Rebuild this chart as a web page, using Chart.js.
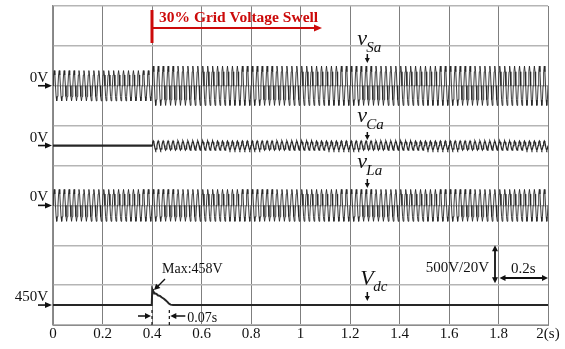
<!DOCTYPE html>
<html>
<head>
<meta charset="utf-8">
<script src="https://cdn.jsdelivr.net/npm/chart.js@4/dist/chart.umd.min.js"></script>
<style>
  html, body { margin: 0; padding: 0; background: #fff; }
  #wrap { width: 565px; height: 349px; }
</style>
</head>
<body>
<div id="wrap"><canvas id="scope" width="565" height="349"></canvas></div>
<script>
// ---- recorded values ----
const xTickLabels = ['0', '0.2', '0.4', '0.6', '0.8', '1', '1.2', '1.4', '1.6', '1.8', '2(s)'];
const timeEnd = 2;            // s
const swellStart = 0.4;       // s, grid voltage rises by 30 %
const gridFreq = 50;          // Hz
// one mains cycle, sampled at eight points (per-unit of peak)
const cycleShape = [0, 0.71, 1, 0.71, 0, -0.71, -1, -0.71];
// peak amplitudes [before swell, after swell] in volts
const vSaPeak = [190, 247];
const vCaPeak = [0, 57];
const vLaPeak = [200, 200];
// DC-link voltage around the swell
const vdcTime  = [0, 0.399, 0.401, 0.404, 0.408, 0.412, 0.418, 0.425, 0.432, 0.44, 0.448, 0.455, 0.462, 0.468, 0.475, 0.485, 2];
const vdcValue = [450, 450, 458, 457.2, 456.4, 455.8, 455.6, 454.8, 454.6, 453.8, 453.2, 452.4, 451.6, 450.8, 450.2, 450, 450];
const settleTime = 0.07;      // s

// oscilloscope settings
const divisions = 8;
const acVoltsPerDiv = 500;
const dcVoltsPerDiv = 20;

// build a trace by repeating the sampled cycle with the recorded peak
function buildWave(peaks) {
  const n = cycleShape.length;
  const dt = 1 / gridFreq / n;
  const total = Math.round(timeEnd * gridFreq * n);
  const pts = [];
  for (let i = 0; i <= total; i++) {
    const t = i * dt;
    const amp = t < swellStart - 1e-9 ? peaks[0] : peaks[1];
    pts.push({ x: t, y: amp * cycleShape[i % n] });
  }
  return pts;
}
const vSaPoints = buildWave(vSaPeak);
const vCaPoints = buildWave(vCaPeak);
const vLaPoints = buildWave(vLaPeak);
const vdcPoints = vdcTime.map((t, i) => ({ x: t, y: vdcValue[i] }));

// vertical placement of each trace's reference level (divisions from top)
function acAxis(zeroDiv) {
  return { display: false, min: -(divisions - zeroDiv) * acVoltsPerDiv, max: zeroDiv * acVoltsPerDiv };
}
const vdcRef = 450;
const vdcAxis = { display: false, min: vdcRef - (divisions - 7.5) * dcVoltsPerDiv, max: vdcRef + 7.5 * dcVoltsPerDiv };

const SERIF = '"Liberation Serif", "Times New Roman", serif';
const INK = '#111';
const RED = '#cc0a0a';

function head(ctx, x, y, ang, len, half) {
  const c = Math.cos(ang), s = Math.sin(ang);
  ctx.beginPath();
  ctx.moveTo(x, y);
  ctx.lineTo(x - len * c + half * s, y - len * s - half * c);
  ctx.lineTo(x - len * c - half * s, y - len * s + half * c);
  ctx.closePath();
  ctx.fill();
}
function arrow(ctx, x1, y1, x2, y2, o = {}) {
  const color = o.color || INK, width = o.width || 1.5, len = o.len || 6, half = o.half || 3;
  const ang = Math.atan2(y2 - y1, x2 - x1);
  const c = Math.cos(ang), s = Math.sin(ang);
  ctx.save();
  ctx.strokeStyle = color; ctx.fillStyle = color; ctx.lineWidth = width;
  ctx.beginPath();
  ctx.moveTo(o.both ? x1 + c * len * 0.8 : x1, o.both ? y1 + s * len * 0.8 : y1);
  ctx.lineTo(x2 - c * len * 0.8, y2 - s * len * 0.8);
  ctx.stroke();
  head(ctx, x2, y2, ang, len, half);
  if (o.both) head(ctx, x1, y1, ang + Math.PI, len, half);
  ctx.restore();
}
function text(ctx, str, x, y, font, align = 'left', color = INK) {
  ctx.save();
  ctx.font = font; ctx.fillStyle = color; ctx.textAlign = align; ctx.textBaseline = 'alphabetic';
  ctx.fillText(str, x, y);
  ctx.restore();
}
function traceLabel(ctx, main, sub, x, y, subDx, subDy) {
  text(ctx, main, x, y, 'italic 22px ' + SERIF);
  text(ctx, sub, x + subDx, y + subDy, 'italic 15px ' + SERIF);
}

const scopeNotes = {
  id: 'scopeNotes',
  afterDatasetsDraw(chart) {
    const ctx = chart.ctx;
    const xs = chart.scales.x;
    const area = chart.chartArea;
    const left = area.left;

    // swell marker
    const xs0 = xs.getPixelForValue(swellStart);
    ctx.save();
    ctx.strokeStyle = RED; ctx.lineWidth = 3;
    ctx.beginPath(); ctx.moveTo(xs0, 10); ctx.lineTo(xs0, 43); ctx.stroke();
    ctx.restore();
    arrow(ctx, xs0, 28, 322, 28, { color: RED, width: 2, len: 8, half: 3.5 });
    text(ctx, '30% Grid Voltage Swell', xs0 + 7, 22, 'bold 15.5px ' + SERIF, 'left', RED);

    // reference-level markers on the left
    const refs = [
      ['0V', chart.scales.ySa.getPixelForValue(0)],
      ['0V', chart.scales.yCa.getPixelForValue(0)],
      ['0V', chart.scales.yLa.getPixelForValue(0)],
      ['450V', chart.scales.yDc.getPixelForValue(vdcRef)]
    ];
    refs.forEach(([lbl, y]) => {
      text(ctx, lbl, left - 5, y - 4, '15px ' + SERIF, 'right');
      arrow(ctx, left - 15, y, left - 1, y, { width: 1.6, len: 7, half: 3 });
    });

    // trace names
    const lx = xs.getPixelForValue(1.27);
    traceLabel(ctx, 'v', 'Sa', lx - 10, 45, 9, 7);
    arrow(ctx, lx, 54, lx, 63, { len: 5, half: 2.5 });
    traceLabel(ctx, 'v', 'Ca', lx - 10, 122, 9, 7);
    arrow(ctx, lx, 132, lx, 140, { len: 5, half: 2.5 });
    traceLabel(ctx, 'v', 'La', lx - 10, 168, 9, 7);
    arrow(ctx, lx, 179, lx, 188, { len: 5, half: 2.5 });
    traceLabel(ctx, 'V', 'dc', lx - 7, 285, 13, 6);
    arrow(ctx, lx, 292, lx, 301, { len: 5, half: 2.5 });

    // DC-link peak and settling time
    const peakY = chart.scales.yDc.getPixelForValue(Math.max(...vdcValue));
    text(ctx, 'Max:' + Math.max(...vdcValue) + 'V', 162, 273, '14px ' + SERIF);
    arrow(ctx, 165, 279, xs0 + 2, peakY + 1, { width: 1.3, len: 6, half: 3 });
    const xs1 = xs.getPixelForValue(swellStart + settleTime);
    ctx.save();
    ctx.strokeStyle = INK; ctx.lineWidth = 1.2; ctx.setLineDash([3, 3]);
    ctx.beginPath();
    ctx.moveTo(xs0, 310); ctx.lineTo(xs0, area.bottom);
    ctx.moveTo(xs1, 310); ctx.lineTo(xs1, area.bottom);
    ctx.stroke();
    ctx.restore();
    arrow(ctx, xs0 - 14, 316, xs0 - 1, 316, { width: 1.5, len: 6, half: 3 });
    arrow(ctx, xs1 + 16, 316, xs1 + 1, 316, { width: 1.5, len: 6, half: 3 });
    text(ctx, settleTime + 's', xs1 + 18, 322, '14px ' + SERIF);

    // scale legend
    const gy = chart.scales.grid;
    const yTop = gy.getPixelForValue(2), yBot = gy.getPixelForValue(1.05);
    arrow(ctx, 495, yTop, 495, yBot, { both: true, width: 1.8, len: 6, half: 3 });
    text(ctx, acVoltsPerDiv + 'V/' + dcVoltsPerDiv + 'V', 489, 272, '15px ' + SERIF, 'right');
    const xa = xs.getPixelForValue(1.8), xb = xs.getPixelForValue(2);
    arrow(ctx, xa + 1, 278, xb, 278, { both: true, width: 1.8, len: 6, half: 3 });
    text(ctx, '0.2s', 511, 273, '15px ' + SERIF);
  }
};

const lineStyle = { borderColor: '#262626', borderWidth: 0.9, pointRadius: 0, tension: 0, fill: false };

new Chart(document.getElementById('scope'), {
  type: 'line',
  data: {
    datasets: [
      Object.assign({ label: 'vSa', data: vSaPoints, yAxisID: 'ySa' }, lineStyle),
      Object.assign({ label: 'vCa', data: vCaPoints, yAxisID: 'yCa' }, lineStyle, {
        borderWidth: 1.2,
        // the compensator output sits idle (thick flat trace) until the swell
        segment: { borderWidth: c => (c.p1.parsed.x <= swellStart + 1e-9 ? 2.2 : 1.2) }
      }),
      Object.assign({ label: 'vLa', data: vLaPoints, yAxisID: 'yLa' }, lineStyle),
      Object.assign({ label: 'Vdc', data: vdcPoints, yAxisID: 'yDc' }, lineStyle, { borderWidth: 2 })
    ]
  },
  options: {
    responsive: false,
    animation: false,
    events: [],
    normalized: true,
    layout: { padding: { left: 53, top: 6, right: 17, bottom: 6 } },
    plugins: { legend: { display: false }, tooltip: { enabled: false } },
    scales: {
      x: {
        type: 'linear', min: 0, max: timeEnd,
        ticks: {
          stepSize: 0.2, autoSkip: false, maxRotation: 0, padding: 0, color: INK,
          font: { family: SERIF, size: 15 },
          callback: (v, i) => xTickLabels[i]
        },
        grid: { color: '#7f7f7f', lineWidth: 1, drawTicks: false },
        border: { color: '#8c8c8c', width: 1 }
      },
      grid: {
        type: 'linear', position: 'left', min: 0, max: divisions,
        ticks: { display: false, stepSize: 1 },
        grid: { color: '#b5b5b5', lineWidth: 1.5, drawTicks: false },
        border: { color: '#8c8c8c', width: 1.5 }
      },
      ySa: acAxis(2),
      yCa: acAxis(3.5),
      yLa: acAxis(5),
      yDc: vdcAxis
    }
  },
  plugins: [scopeNotes]
});
</script>
</body>
</html>
